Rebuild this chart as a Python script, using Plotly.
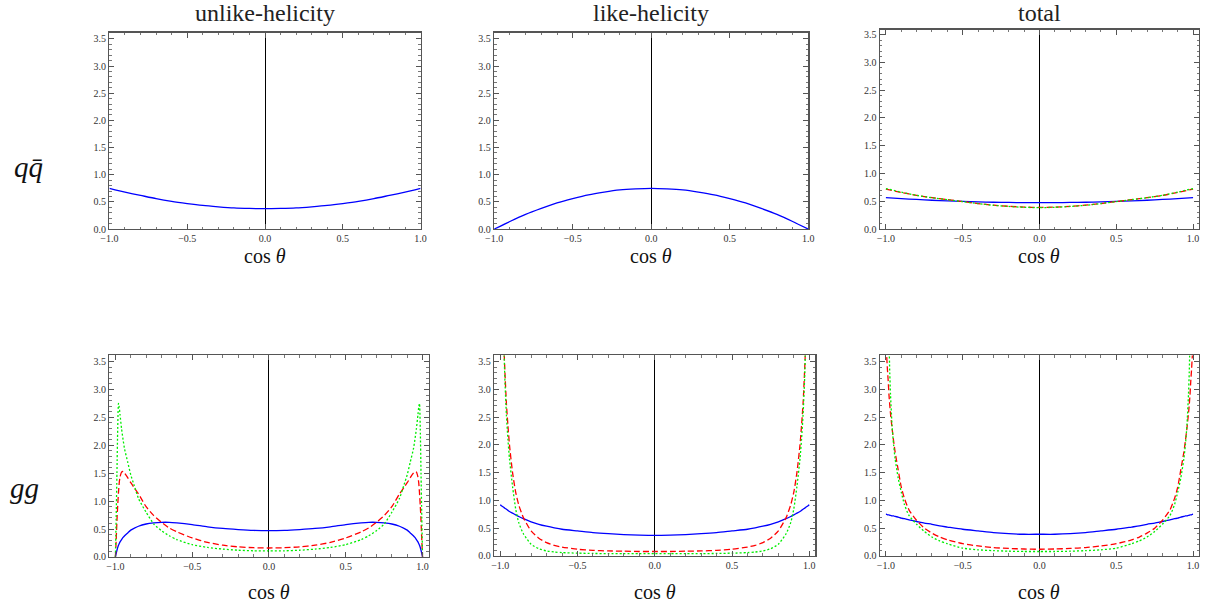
import plotly.graph_objects as go

# ---------------- data ----------------
X_QQ = [-1.0, -0.9, -0.8, -0.7, -0.6, -0.5, -0.4, -0.3, -0.2, -0.1, 0.0,
        0.1, 0.2, 0.3, 0.4, 0.5, 0.6, 0.7, 0.8, 0.9, 1.0]

QQ_UNLIKE_BLUE = [0.75, 0.68, 0.62, 0.56, 0.51, 0.47, 0.435, 0.41, 0.39, 0.38, 0.375,
                  0.38, 0.39, 0.41, 0.435, 0.47, 0.51, 0.56, 0.62, 0.68, 0.75]
QQ_LIKE_BLUE = [0.0, 0.14, 0.27, 0.38, 0.48, 0.56, 0.63, 0.68, 0.72, 0.74, 0.75,
                0.74, 0.72, 0.68, 0.63, 0.56, 0.48, 0.38, 0.27, 0.14, 0.0]
QQ_TOTAL_BLUE = [0.565, 0.548, 0.533, 0.519, 0.507, 0.497, 0.49, 0.483, 0.479, 0.476, 0.475,
                 0.476, 0.479, 0.483, 0.49, 0.497, 0.507, 0.519, 0.533, 0.548, 0.565]
QQ_TOTAL_RED = [0.72, 0.66, 0.605, 0.565, 0.53, 0.495, 0.46, 0.43, 0.41, 0.395, 0.39,
                0.395, 0.41, 0.43, 0.46, 0.495, 0.53, 0.565, 0.605, 0.66, 0.72]
QQ_TOTAL_GREEN = [0.73, 0.665, 0.607, 0.565, 0.53, 0.495, 0.46, 0.428, 0.407, 0.392, 0.386,
                  0.392, 0.407, 0.428, 0.46, 0.495, 0.53, 0.565, 0.607, 0.665, 0.73]

X_GG = [-1.0, -0.995, -0.99, -0.985, -0.98, -0.975, -0.97, -0.96, -0.95, -0.94, -0.92, -0.9,
        -0.88, -0.85, -0.8, -0.75, -0.7, -0.65, -0.6, -0.5, -0.4, -0.3, -0.2, -0.1, 0.0,
        0.1, 0.2, 0.3, 0.4, 0.5, 0.6, 0.65, 0.7, 0.75, 0.8, 0.85, 0.88, 0.9, 0.92, 0.94,
        0.95, 0.96, 0.97, 0.975, 0.98, 0.985, 0.99, 0.995, 1.0]

GG_UNLIKE_BLUE = [0.0, 0.06, 0.12, 0.17, 0.21, 0.24, 0.27, 0.31, 0.35, 0.38, 0.43, 0.48,
                  0.51, 0.55, 0.59, 0.61, 0.62, 0.62, 0.61, 0.58, 0.54, 0.51, 0.49, 0.475, 0.47,
                  0.475, 0.49, 0.51, 0.54, 0.58, 0.61, 0.62, 0.62, 0.61, 0.59, 0.55, 0.51, 0.48,
                  0.43, 0.38, 0.35, 0.31, 0.27, 0.24, 0.21, 0.17, 0.12, 0.06, 0.0]
GG_UNLIKE_RED = [0.0, 0.3, 0.65, 0.92, 1.15, 1.33, 1.43, 1.52, 1.53, 1.5, 1.42, 1.33,
                 1.25, 1.13, 0.9, 0.74, 0.62, 0.52, 0.45, 0.34, 0.26, 0.21, 0.18, 0.165, 0.16,
                 0.165, 0.18, 0.21, 0.26, 0.34, 0.45, 0.52, 0.62, 0.74, 0.9, 1.13, 1.25, 1.33,
                 1.42, 1.5, 1.53, 1.52, 1.43, 1.33, 1.15, 0.92, 0.65, 0.3, 0.0]
GG_UNLIKE_GREEN = [0.0, 0.7, 1.5, 2.3, 2.75, 2.68, 2.55, 2.3, 2.1, 1.93, 1.7, 1.47,
                   1.3, 1.05, 0.8, 0.59, 0.47, 0.38, 0.31, 0.22, 0.17, 0.14, 0.12, 0.11, 0.11,
                   0.11, 0.12, 0.14, 0.17, 0.22, 0.31, 0.38, 0.47, 0.59, 0.8, 1.05, 1.3, 1.47,
                   1.7, 1.93, 2.1, 2.3, 2.55, 2.68, 2.75, 2.3, 1.5, 0.7, 0.0]

GG_LIKE_BLUE = [0.92, 0.91, 0.9, 0.89, 0.88, 0.87, 0.86, 0.84, 0.82, 0.8, 0.77, 0.74,
                0.71, 0.67, 0.615, 0.57, 0.535, 0.505, 0.48, 0.45, 0.42, 0.4, 0.385, 0.375, 0.37,
                0.375, 0.385, 0.4, 0.42, 0.45, 0.48, 0.505, 0.535, 0.57, 0.615, 0.67, 0.71, 0.74,
                0.77, 0.8, 0.82, 0.84, 0.86, 0.87, 0.88, 0.89, 0.9, 0.91, 0.92]
GG_LIKE_RED = [8.0, 6.5, 5.5, 4.8, 4.2, 3.7, 3.35, 2.75, 2.35, 2.0, 1.5, 1.15,
               0.92, 0.69, 0.45, 0.32, 0.24, 0.19, 0.16, 0.12, 0.1, 0.09, 0.085, 0.08, 0.08,
               0.08, 0.085, 0.09, 0.1, 0.12, 0.16, 0.19, 0.24, 0.32, 0.45, 0.69, 0.92, 1.15,
               1.5, 2.0, 2.35, 2.75, 3.35, 3.7, 4.2, 4.8, 5.5, 6.5, 8.0]
GG_LIKE_GREEN = [15.0, 10.0, 7.0, 5.5, 4.4, 3.7, 3.2, 2.55, 2.1, 1.75, 1.25, 0.85,
                 0.6, 0.4, 0.21, 0.13, 0.09, 0.07, 0.06, 0.05, 0.045, 0.04, 0.04, 0.04, 0.04,
                 0.04, 0.04, 0.04, 0.045, 0.05, 0.06, 0.07, 0.09, 0.13, 0.21, 0.4, 0.6, 0.85,
                 1.25, 1.75, 2.1, 2.55, 3.2, 3.7, 4.4, 5.5, 7.0, 10.0, 15.0]

GG_TOTAL_BLUE = [0.75, 0.75, 0.74, 0.74, 0.74, 0.73, 0.73, 0.72, 0.72, 0.71, 0.70, 0.68,
                 0.67, 0.65, 0.62, 0.59, 0.57, 0.54, 0.52, 0.48, 0.45, 0.42, 0.40, 0.39, 0.39,
                 0.39, 0.40, 0.42, 0.45, 0.48, 0.52, 0.54, 0.57, 0.59, 0.62, 0.65, 0.67, 0.68,
                 0.70, 0.71, 0.72, 0.72, 0.73, 0.73, 0.74, 0.74, 0.74, 0.75, 0.75]
GG_TOTAL_RED = [3.9, 3.6, 3.35, 3.15, 2.9, 2.72, 2.56, 2.3, 2.07, 1.87, 1.55, 1.24,
                1.04, 0.83, 0.64, 0.5, 0.41, 0.34, 0.29, 0.22, 0.18, 0.15, 0.135, 0.125, 0.12,
                0.125, 0.135, 0.15, 0.18, 0.22, 0.29, 0.34, 0.41, 0.5, 0.64, 0.83, 1.04, 1.24,
                1.55, 1.87, 2.07, 2.3, 2.56, 2.72, 2.9, 3.15, 3.35, 3.6, 3.9]
GG_TOTAL_GREEN = [10.0, 7.5, 5.8, 4.7, 3.9, 3.3, 2.9, 2.35, 2.0, 1.75, 1.4, 1.15,
                  0.93, 0.73, 0.57, 0.44, 0.34, 0.27, 0.22, 0.14, 0.11, 0.095, 0.085, 0.08, 0.08,
                  0.08, 0.085, 0.095, 0.11, 0.14, 0.22, 0.27, 0.34, 0.44, 0.57, 0.73, 0.93, 1.15,
                  1.4, 1.75, 2.0, 2.35, 2.9, 3.3, 3.9, 4.7, 5.8, 7.5, 10.0]

COLUMN_TITLES = ["unlike-helicity", "like-helicity", "total"]
ROW_LABELS = ["<i>q</i><i>q\u0304</i>", "<i>gg</i>"]
X_TICKS = [-1.0, -0.5, 0.0, 0.5, 1.0]
X_TICKTEXT = ["\u22121.0", "\u22120.5", "0.0", "0.5", "1.0"]
Y_TICKS = [0.0, 0.5, 1.0, 1.5, 2.0, 2.5, 3.0, 3.5]
Y_TICKTEXT = ["0.0", "0.5", "1.0", "1.5", "2.0", "2.5", "3.0", "3.5"]
X_LABEL = "cos <i>\u03b8</i>"

# ---------------- layout ----------------
W, H = 1214, 609
BLUE, RED, GREEN = "#0000ff", "#ff0000", "#00ee00"
SERIF = "Liberation Serif, DejaVu Serif, serif"

# the photographed page is slightly scaled/shifted; map target picture pixels
# to page pixels so marks land where the reference has them
SX, OX, SY, OY = 0.9934, 6.0, 0.9876, 0.5


def fx(px):
    return ((px - OX) / SX) / W


def fy(py):
    return 1 - ((py - OY) / SY) / H


# each panel: pixel frame in the reference (left, right, top, bottom), ranges, traces
panels = [
    dict(frame=(107, 420, 33, 229), xr=[-1.0, 1.0], yr=[0, 3.615],
         traces=[(X_QQ, QQ_UNLIKE_BLUE, BLUE, "solid")]),
    dict(frame=(494, 810, 33, 229), xr=[-1.0, 1.0], yr=[0, 3.615],
         traces=[(X_QQ, QQ_LIKE_BLUE, BLUE, "solid")]),
    dict(frame=(882, 1203, 30, 229), xr=[-1.039, 1.039], yr=[0, 3.59],
         traces=[(X_QQ, QQ_TOTAL_BLUE, BLUE, "solid"),
                 (X_QQ, QQ_TOTAL_RED, RED, "6px,3px"),
                 (X_QQ, QQ_TOTAL_GREEN, GREEN, "2px,2px")]),
    dict(frame=(107, 428, 355, 556), xr=[-1.039, 1.039], yr=[0, 3.61],
         traces=[(X_GG, GG_UNLIKE_BLUE, BLUE, "solid"),
                 (X_GG, GG_UNLIKE_RED, RED, "6px,3px"),
                 (X_GG, GG_UNLIKE_GREEN, GREEN, "2px,2px")]),
    dict(frame=(494, 817, 355, 555), xr=[-1.039, 1.039], yr=[0, 3.61],
         traces=[(X_GG, GG_LIKE_BLUE, BLUE, "solid"),
                 (X_GG, GG_LIKE_RED, RED, "6px,3px"),
                 (X_GG, GG_LIKE_GREEN, GREEN, "2px,2px")]),
    dict(frame=(882, 1203, 355, 555), xr=[-1.039, 1.039], yr=[0, 3.61],
         traces=[(X_GG, GG_TOTAL_BLUE, BLUE, "solid"),
                 (X_GG, GG_TOTAL_RED, RED, "6px,3px"),
                 (X_GG, GG_TOTAL_GREEN, GREEN, "2px,2px")]),
]

fig = go.Figure()
layout = dict(width=W, height=H, margin=dict(l=0, r=0, t=0, b=0),
              paper_bgcolor="white", plot_bgcolor="white", showlegend=False,
              annotations=[])

tickfont = dict(family=SERIF, size=10, color="#333333")
for i, p in enumerate(panels):
    n = "" if i == 0 else str(i + 1)
    l, r, t, b = p["frame"]
    xa = dict(domain=[fx(l), fx(r)], range=p["xr"], anchor="y" + n,
              tickmode="array", tickvals=X_TICKS, ticktext=X_TICKTEXT,
              ticks="inside", ticklen=5, tickwidth=1, tickcolor="#555555",
              showline=True, linecolor="#555555", linewidth=1.3, mirror="allticks",
              showgrid=False, zeroline=True, zerolinecolor="black", zerolinewidth=1,
              tickfont=tickfont, fixedrange=True,
              minor=dict(ticks="inside", ticklen=2.5, dtick=0.1, tick0=0,
                         tickcolor="#555555", tickwidth=0.8, showgrid=False))
    ya = dict(domain=[fy(b), fy(t)], range=p["yr"], anchor="x" + n,
              tickmode="array", tickvals=Y_TICKS, ticktext=Y_TICKTEXT,
              ticks="inside", ticklen=5, tickwidth=1, tickcolor="#555555",
              showline=True, linecolor="#555555", linewidth=1.3, mirror="allticks",
              showgrid=False, zeroline=False, tickfont=tickfont, fixedrange=True,
              minor=dict(ticks="inside", ticklen=2.5, dtick=0.1, tick0=0,
                         tickcolor="#555555", tickwidth=0.8, showgrid=False))
    layout["xaxis" + n] = xa
    layout["yaxis" + n] = ya
    for xs, ys, col, dash in p["traces"]:
        fig.add_trace(go.Scatter(x=xs, y=ys, mode="lines", xaxis="x" + n, yaxis="y" + n,
                                 line=dict(color=col, width=1.3, dash=dash,
                                           shape="spline", smoothing=0.6),
                                 hoverinfo="skip", cliponaxis=True))
    # x-axis label "cos θ" centred on x = 0
    x0 = l + (0 - p["xr"][0]) / (p["xr"][1] - p["xr"][0]) * (r - l)
    ylab = 256 if i < 3 else 591
    layout["annotations"].append(dict(
        text=X_LABEL, x=fx(x0), y=fy(ylab), xref="paper", yref="paper",
        xanchor="center", yanchor="middle", showarrow=False,
        font=dict(family=SERIF, size=20, color="#111111")))
    if i < 3:
        layout["annotations"].append(dict(
            text=COLUMN_TITLES[i], x=fx(x0), y=fy(13), xref="paper", yref="paper",
            xanchor="center", yanchor="middle", showarrow=False,
            font=dict(family=SERIF, size=24, color="#222222")))

for lab, (xp, yp) in zip(ROW_LABELS, [(26, 167), (22, 487)]):
    layout["annotations"].append(dict(
        text=lab, x=fx(xp), y=fy(yp), xref="paper", yref="paper",
        xanchor="center", yanchor="middle", showarrow=False,
        font=dict(family=SERIF, size=29, color="#111111")))

fig.update_layout(**layout)
fig.write_html("out.html",
               config={"displayModeBar": False, "staticPlot": True},
               post_script="document.documentElement.style.margin='0';"
                           "document.body.style.margin='0';"
                           "document.body.style.overflow='hidden';")
